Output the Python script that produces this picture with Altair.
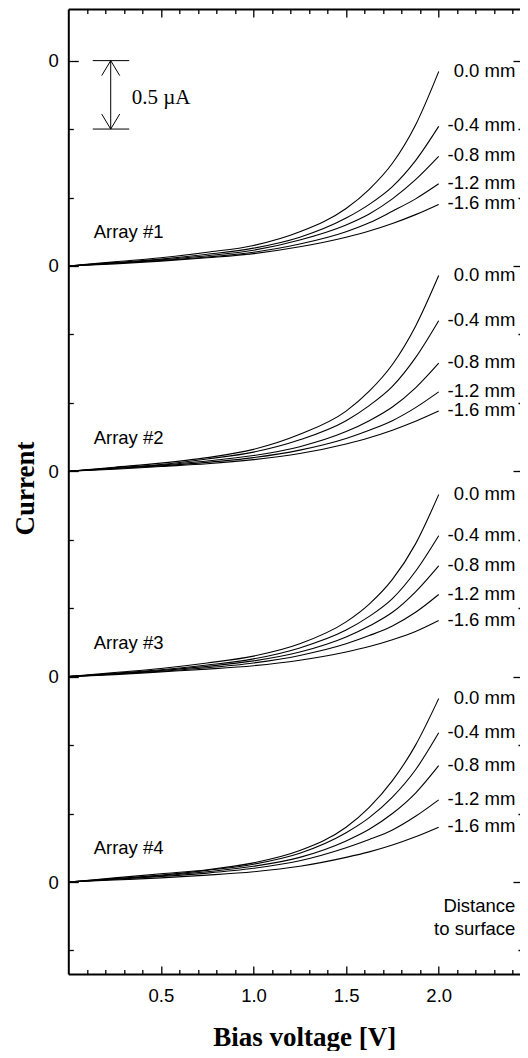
import altair as alt
import pandas as pd

# ---------------- data ----------------
VOLTAGE = [0.0, 0.25, 0.5, 0.75, 1.0, 1.25, 1.5, 1.625, 1.75, 1.875, 2.0]   # V
DISTANCES = ["0.0 mm", "-0.4 mm", "-0.8 mm", "-1.2 mm", "-1.6 mm"]
ARRAYS = ["Array #1", "Array #2", "Array #3", "Array #4"]
OFFSETS = [4.5, 3.0, 1.5, 0.0]        # vertical offset (µA) of each array's zero

# current (µA) relative to the array's zero, one list per distance
ARRAY_1 = [
    [0, 0.030, 0.060, 0.100, 0.150, 0.250, 0.420, 0.560, 0.750, 1.030, 1.420],
    [0, 0.025, 0.050, 0.085, 0.130, 0.210, 0.350, 0.450, 0.580, 0.770, 1.020],
    [0, 0.020, 0.045, 0.075, 0.115, 0.190, 0.300, 0.380, 0.490, 0.630, 0.800],
    [0, 0.020, 0.040, 0.065, 0.100, 0.160, 0.250, 0.315, 0.400, 0.490, 0.600],
    [0, 0.015, 0.035, 0.060, 0.090, 0.140, 0.210, 0.255, 0.310, 0.375, 0.450],
]
ARRAY_2 = [
    [0, 0.030, 0.060, 0.100, 0.160, 0.270, 0.440, 0.585, 0.780, 1.060, 1.430],
    [0, 0.025, 0.050, 0.090, 0.140, 0.230, 0.370, 0.480, 0.620, 0.830, 1.100],
    [0, 0.020, 0.045, 0.075, 0.115, 0.180, 0.290, 0.370, 0.470, 0.610, 0.790],
    [0, 0.020, 0.040, 0.065, 0.100, 0.155, 0.240, 0.300, 0.370, 0.465, 0.580],
    [0, 0.015, 0.035, 0.055, 0.085, 0.130, 0.200, 0.245, 0.300, 0.365, 0.440],
]
ARRAY_3 = [
    [0, 0.030, 0.060, 0.100, 0.150, 0.240, 0.400, 0.530, 0.710, 0.970, 1.330],
    [0, 0.025, 0.050, 0.085, 0.130, 0.210, 0.340, 0.440, 0.570, 0.770, 1.030],
    [0, 0.020, 0.045, 0.075, 0.115, 0.180, 0.290, 0.370, 0.470, 0.620, 0.810],
    [0, 0.020, 0.040, 0.065, 0.100, 0.155, 0.240, 0.300, 0.370, 0.470, 0.600],
    [0, 0.015, 0.035, 0.055, 0.080, 0.120, 0.180, 0.220, 0.270, 0.330, 0.410],
]
ARRAY_4 = [
    [0, 0.030, 0.060, 0.090, 0.140, 0.230, 0.400, 0.545, 0.740, 1.000, 1.340],
    [0, 0.025, 0.050, 0.085, 0.130, 0.210, 0.360, 0.470, 0.620, 0.820, 1.090],
    [0, 0.020, 0.045, 0.075, 0.115, 0.180, 0.300, 0.385, 0.500, 0.650, 0.850],
    [0, 0.020, 0.040, 0.065, 0.100, 0.155, 0.250, 0.310, 0.380, 0.480, 0.600],
    [0, 0.015, 0.030, 0.050, 0.075, 0.115, 0.180, 0.220, 0.270, 0.330, 0.400],
]
ALL_ARRAYS = [ARRAY_1, ARRAY_2, ARRAY_3, ARRAY_4]

X_LABEL_TICKS = [0.5, 1.0, 1.5, 2.0]
X_MINOR_TICKS = [round(0.1 * i, 1) for i in range(1, 25)]
ZERO_TICKS = [0.0, 1.5, 3.0, 4.5, 6.0]
Y_MINOR_TICKS = [round(-0.5 + 0.5 * i, 1) for i in range(14)]

SCALE_BAR_TOP = 6.0      # µA
SCALE_BAR_LEN = 0.5      # µA
SCALE_BAR_TEXT = "0.5 µA"
LEGEND_NOTE = ["Distance", "to surface"]

# ---------------- tables ----------------
rows, ends = [], []
for a, (name, off, curves) in enumerate(zip(ARRAYS, OFFSETS, ALL_ARRAYS)):
    for d, (dist, vals) in enumerate(zip(DISTANCES, curves)):
        for v, i in zip(VOLTAGE, vals):
            rows.append({"V": v, "I": off + i, "series": f"{a}-{d}"})
        ends.append({"label": dist, "I": off + vals[-1]})
curve_df = pd.DataFrame(rows)
end_df = pd.DataFrame(ends)
array_df = pd.DataFrame({"label": ARRAYS, "I": [o + 0.245 for o in OFFSETS]})
note_df = pd.DataFrame({"label": LEGEND_NOTE, "I": [-0.178, -0.340]})
bar_h = pd.DataFrame({"I": [SCALE_BAR_TOP, SCALE_BAR_TOP - SCALE_BAR_LEN]})
bar_v = pd.DataFrame({"I": [SCALE_BAR_TOP], "I2": [SCALE_BAR_TOP - SCALE_BAR_LEN]})
bar_t = pd.DataFrame({"label": [SCALE_BAR_TEXT], "I": [SCALE_BAR_TOP - SCALE_BAR_LEN * 0.55]})

# ---------------- layout ----------------
PX_PER_V = 185.2
PAD_LEFT = 60.3
W, H = 512 - PAD_LEFT, 965     # plot area runs to the right edge of the page
X_FRAME = W + 3                 # right frame just outside the visible page
SANS = "Liberation Sans"
SERIF = "Liberation Serif"
FS = 18.5

xs = alt.Scale(domain=[0, W / PX_PER_V], nice=False, zero=False)
ys = alt.Scale(domain=[-0.672, 6.377], nice=False, zero=False)

x_major_test = "abs(datum.value*2 - round(datum.value*2)) < 0.001"
y_major_test = "abs(datum.value/1.5 - round(datum.value/1.5)) < 0.001"
x_tick_size = {"condition": {"test": x_major_test, "value": 8}, "value": 4.5}
y_tick_size = {"condition": {"test": y_major_test, "value": 10}, "value": 5}

axis_x_labels = alt.Axis(
    orient="bottom", values=X_LABEL_TICKS, format=".1f", ticks=False, tickSize=0,
    domain=False, grid=False, labelFont=SANS, labelFontSize=FS, labelColor="black",
    labelPadding=12, labelOverlap=False, labelFlush=False,
    title="Bias voltage [V]", titleFont=SERIF, titleFontSize=27, titleFontWeight="bold",
    titleColor="black", titleX=236, titleY=71, titleAlign="center", titleBaseline="alphabetic",
)
axis_y_labels = alt.Axis(
    orient="left", values=ZERO_TICKS, labelExpr="'0'", ticks=False, tickSize=0,
    domain=False, grid=False, labelFont=SANS, labelFontSize=FS, labelColor="black",
    labelPadding=10, labelOverlap=False, labelFlush=False,
    title="Current", titleFont=SERIF, titleFontSize=27, titleFontWeight="bold",
    titleColor="black", titleAngle=270, titleX=-34.8, titleY=479,
    titleAlign="center", titleBaseline="alphabetic",
)
frame = dict(domain=True, domainColor="black", domainWidth=2, labels=False, grid=False,
             tickColor="black", tickWidth=1.3, title=None)
axis_x_bottom_in = alt.Axis(orient="top", offset=-H, values=X_MINOR_TICKS,
                            tickSize=x_tick_size, **frame)
axis_x_top_in = alt.Axis(orient="bottom", offset=-H, values=X_MINOR_TICKS,
                         tickSize=x_tick_size, **frame)
axis_y_left_in = alt.Axis(orient="right", offset=-W, values=Y_MINOR_TICKS,
                          tickSize=y_tick_size, **frame)
axis_y_right_in = alt.Axis(orient="left", offset=-X_FRAME, values=Y_MINOR_TICKS,
                           domain=False, labels=False, grid=False, tickColor="black",
                           tickWidth=1.3, title=None, tickSize=y_tick_size)

curves = alt.Chart(curve_df).mark_line(
    color="black", strokeWidth=1.1, interpolate="monotone"
).encode(
    x=alt.X("V:Q", scale=xs, axis=axis_x_labels),
    y=alt.Y("I:Q", scale=ys, axis=axis_y_labels),
    detail="series:N",
)

end_labels = alt.Chart(end_df).mark_text(
    align="right", baseline="middle", font=SANS, fontSize=FS, color="black", dy=-1
).encode(
    x=alt.X("xv:Q", scale=xs, axis=axis_x_bottom_in),
    y=alt.Y("I:Q", scale=ys, axis=axis_y_left_in),
    text="label:N",
).transform_calculate(xv="2.414")

array_labels = alt.Chart(array_df).mark_text(
    align="left", baseline="middle", font=SANS, fontSize=FS, color="black"
).encode(
    x=alt.X("xv:Q", scale=xs, axis=axis_x_top_in),
    y=alt.Y("I:Q", scale=ys, axis=axis_y_right_in),
    text="label:N",
).transform_calculate(xv="0.137")

note = alt.Chart(note_df).mark_text(
    align="right", baseline="middle", font=SANS, fontSize=FS, color="black"
).encode(
    x=alt.X("xv:Q", scale=xs, axis=None),
    y=alt.Y("I:Q", scale=ys, axis=None),
    text="label:N",
).transform_calculate(xv="2.414")

bar_lines = alt.Chart(bar_h).mark_rule(color="black", strokeWidth=1).encode(
    x=alt.X("x1:Q", scale=xs, axis=None),
    x2="x2:Q",
    y=alt.Y("I:Q", scale=ys, axis=None),
).transform_calculate(x1="0.132", x2="0.329")

bar_arrow = alt.Chart(bar_v).mark_rule(color="black", strokeWidth=1).encode(
    x=alt.X("xa:Q", scale=xs, axis=None),
    y=alt.Y("I:Q", scale=ys, axis=None),
    y2="I2:Q",
).transform_calculate(xa="0.229")

head_top = alt.Chart(bar_v).mark_point(
    shape="M-0.6,1L0,0L0.6,1", filled=False, size=900, color="black",
    strokeWidth=1, opacity=1
).encode(
    x=alt.X("xa:Q", scale=xs, axis=None),
    y=alt.Y("I:Q", scale=ys, axis=None),
).transform_calculate(xa="0.229")

head_bottom = alt.Chart(bar_v).mark_point(
    shape="M-0.6,-1L0,0L0.6,-1", filled=False, size=900, color="black",
    strokeWidth=1, opacity=1
).encode(
    x=alt.X("xa:Q", scale=xs, axis=None),
    y=alt.Y("I2:Q", scale=ys, axis=None),
).transform_calculate(xa="0.229")

bar_text = alt.Chart(bar_t).mark_text(
    align="left", baseline="middle", font=SERIF, fontSize=21, color="black"
).encode(
    x=alt.X("xt:Q", scale=xs, axis=None),
    y=alt.Y("I:Q", scale=ys, axis=None),
    text="label:N",
).transform_calculate(xt="0.342")

chart = alt.layer(
    curves, end_labels, array_labels, note, bar_lines, bar_arrow,
    head_top, head_bottom, bar_text,
).resolve_axis(
    x="independent", y="independent"
).properties(
    width=W, height=H,
    autosize=alt.AutoSizeParams(type="none"),
    padding={"left": PAD_LEFT, "top": 1, "right": 0, "bottom": 77},
    background="white",
).configure_view(
    stroke="transparent", strokeWidth=0
).configure_axis(
    grid=False
)

chart.save("out.html", embed_options={"renderer": "svg", "actions": False})
